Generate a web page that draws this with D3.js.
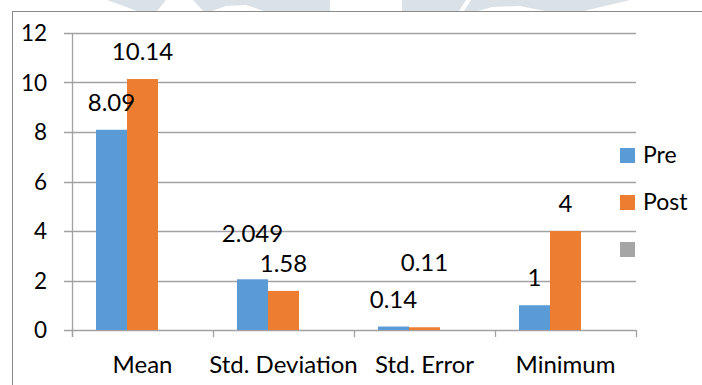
<!DOCTYPE html>
<html>
<head>
<meta charset="utf-8">
<script src="https://cdn.jsdelivr.net/npm/d3@7"></script>
<style>
  html, body { margin: 0; padding: 0; background: #fff; }
  svg { display: block; }
  text { font-family: Lato, "Open Sans", sans-serif; fill: #000; }
</style>
</head>
<body>
<svg id="chart" width="702" height="385"></svg>
<script>
// Descriptive statistics, pre vs post
const categories = ["Mean", "Std. Deviation", "Std. Error", "Minimum"];
const seriesNames = ["Pre", "Post", ""];
const preValues = [8.09, 2.049, 0.14, 1];
const postValues = [10.14, 1.58, 0.11, 4];
const preLabels = ["8.09", "2.049", "0.14", "1"];
const postLabels = ["10.14", "1.58", "0.11", "4"];
const yTicks = [0, 2, 4, 6, 8, 10, 12];

const colors = { "Pre": "#5B9BD5", "Post": "#ED7D31", "": "#A5A5A5" };

const svg = d3.select("#chart");

// faint background watermark strokes above the chart frame
const wm = svg.append("g").attr("fill", "#dbe2e7");
const wmShapes = [
  [[107,0],[166,0],[157,11],[137,11]],
  [[193,0],[330,0],[330,11],[264,11],[246,5],[226,6],[212,11],[203,11]],
  [[402,0],[466,0],[459,11],[402,11]],
  [[471,0],[630,0],[584,11],[545,11],[520,6],[492,7],[478,11],[464,11]]
];
wmShapes.forEach(p => wm.append("path").attr("d", d3.line()(p) + "Z"));

// chart frame
svg.append("rect")
  .attr("x", 12.5).attr("y", 11.5)
  .attr("width", 720).attr("height", 400)
  .attr("fill", "#fff").attr("stroke", "#8a8a8a").attr("stroke-width", 1);

const plot = { left: 72, right: 636, top: 33, bottom: 330 };

const x = d3.scaleBand().domain(categories).range([plot.left, plot.right]).padding(0);
const xs = d3.scaleBand().domain(seriesNames).range([0, x.bandwidth()])
  .paddingInner(0).paddingOuter(0.774);
const y = d3.scaleLinear().domain([0, 12]).range([plot.bottom, plot.top]);

// horizontal gridlines with short outward ticks
const grid = svg.append("g");
grid.selectAll("line").data(yTicks).join("line")
  .attr("x1", plot.left - 8).attr("x2", plot.right)
  .attr("y1", d => Math.round(y(d)) + 0.5).attr("y2", d => Math.round(y(d)) + 0.5)
  .attr("stroke", "#a2a2a2").attr("stroke-width", 1.3);

// vertical value axis line
svg.append("line")
  .attr("x1", plot.left + 0.5).attr("x2", plot.left + 0.5)
  .attr("y1", y(12)).attr("y2", y(0) + 7)
  .attr("stroke", "#a2a2a2").attr("stroke-width", 1.3);

// category boundary ticks
const bounds = categories.map(c => x(c)).concat([plot.right]);
svg.append("g").selectAll("line").data(bounds).join("line")
  .attr("x1", d => Math.round(d) + 0.5).attr("x2", d => Math.round(d) + 0.5)
  .attr("y1", y(0)).attr("y2", y(0) + 7)
  .attr("stroke", "#a2a2a2").attr("stroke-width", 1.3);

// y tick labels
svg.append("g").selectAll("text").data(yTicks).join("text")
  .attr("x", 47).attr("y", d => y(d))
  .attr("dy", "0.36em")
  .attr("text-anchor", "end")
  .attr("font-size", 22.5)
  .text(d => d);

// bars
const rows = categories.map((c, i) => ({
  category: c,
  values: [
    { series: "Pre", value: preValues[i], label: preLabels[i] },
    { series: "Post", value: postValues[i], label: postLabels[i] }
  ]
}));

const groups = svg.append("g").selectAll("g").data(rows).join("g")
  .attr("transform", d => `translate(${x(d.category)},0)`);

groups.selectAll("rect").data(d => d.values).join("rect")
  .attr("x", d => xs(d.series))
  .attr("width", xs.bandwidth())
  .attr("y", d => y(d.value))
  .attr("height", d => y(0) - y(d.value))
  .attr("fill", d => colors[d.series]);

// value labels; two are lifted to keep clear of their neighbours
const labelLift = { "Std. Deviation|Pre": 18, "Std. Error|Post": 37 };
groups.selectAll("text").data(d => d.values.map(v => ({ ...v, category: d.category }))).join("text")
  .attr("x", d => xs(d.series) + xs.bandwidth() / 2)
  .attr("y", d => y(d.value) - 19 - (labelLift[d.category + "|" + d.series] || 0))
  .attr("text-anchor", "middle")
  .attr("font-size", 24)
  .text(d => d.label);

// category labels
svg.append("g").selectAll("text").data(categories).join("text")
  .attr("x", d => x(d) + x.bandwidth() / 2)
  .attr("y", 373)
  .attr("text-anchor", "middle")
  .attr("font-size", 24)
  .text(d => d);

// legend
const legend = svg.append("g").selectAll("g").data(seriesNames).join("g")
  .attr("transform", (d, i) => `translate(620,${148 + i * 47})`);
legend.append("rect")
  .attr("width", 15).attr("height", 15)
  .attr("fill", d => colors[d]);
legend.append("text")
  .attr("x", 23).attr("y", 14.5)
  .attr("font-size", 23)
  .text(d => d);
</script>
</body>
</html>
